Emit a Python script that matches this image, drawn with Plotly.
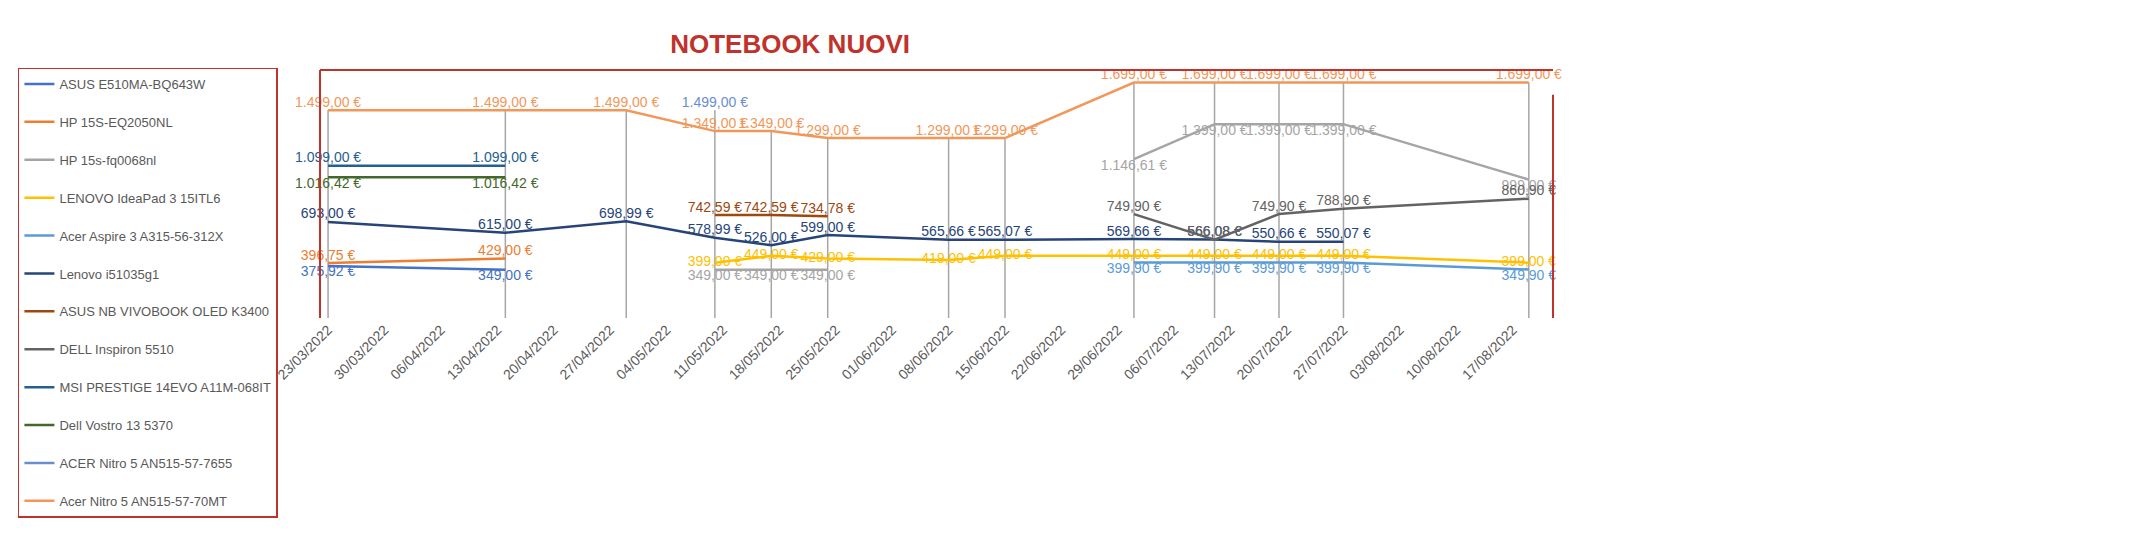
import plotly.graph_objects as go

# survey dates (one column per price check)
dates = ["2022-03-23", "2022-04-14", "2022-04-29", "2022-05-10", "2022-05-17",
         "2022-05-24", "2022-06-08", "2022-06-15", "2022-07-01", "2022-07-11",
         "2022-07-19", "2022-07-27", "2022-08-19"]
N = None

asus_e510 = [375.92, 349.00, N, N, N, N, N, N, N, N, N, N, N]
hp_15s_eq = [396.75, 429.00, N, N, N, N, N, N, N, N, N, N, N]
hp_15s_fq = [N, N, N, 349.00, 349.00, 349.00, N, N, 1146.61, 1399.00, 1399.00, 1399.00, 999.00]
lenovo_ideapad = [N, N, N, 399.00, 449.00, 429.00, 419.00, 449.00, 449.00, 449.00, 449.00, 449.00, 399.00]
acer_aspire = [N, N, N, N, N, N, N, N, 399.90, 399.90, 399.90, 399.90, 349.90]
lenovo_i5 = [693.00, 615.00, 698.99, 578.99, 526.00, 599.00, 565.66, 565.07, 569.66, 566.08, 550.66, 550.07, N]
asus_vivobook = [N, N, N, 742.59, 742.59, 734.78, N, N, N, N, N, N, N]
dell_inspiron = [N, N, N, N, N, N, N, N, 749.90, 566.08, 749.90, 788.90, 860.90]
msi_prestige = [1099.00, 1099.00, N, N, N, N, N, N, N, N, N, N, N]
dell_vostro = [1016.42, 1016.42, N, N, N, N, N, N, N, N, N, N, N]
acer_7655 = [N, N, N, 1499.00, N, N, N, N, N, N, N, N, N]
acer_70mt = [1499.00, 1499.00, 1499.00, 1349.00, 1349.00, 1299.00, 1299.00, 1299.00,
             1699.00, 1699.00, 1699.00, 1699.00, 1699.00]

series = [
    ("ASUS E510MA-BQ643W", asus_e510, "#4472C4", "bottom center"),
    ("HP 15S-EQ2050NL", hp_15s_eq, "#ED7D31", "top center"),
    ("HP 15s-fq0068nl", hp_15s_fq, "#A5A5A5", "bottom center"),
    ("LENOVO IdeaPad 3 15ITL6", lenovo_ideapad, "#FFC000", "middle center"),
    ("Acer Aspire 3 A315-56-312X", acer_aspire, "#5B9BD5", "bottom center"),
    ("Lenovo i51035g1", lenovo_i5, "#264478", "top center"),
    ("ASUS NB VIVOBOOK OLED K3400", asus_vivobook, "#9E480E", "top center"),
    ("DELL Inspiron 5510", dell_inspiron, "#636363", "top center"),
    ("MSI PRESTIGE 14EVO A11M-068IT", msi_prestige, "#255E91", "top center"),
    ("Dell Vostro 13 5370", dell_vostro, "#43682B", "bottom center"),
    ("ACER Nitro 5 AN515-57-7655", acer_7655, "#698ED0", "top center"),
    ("Acer Nitro 5 AN515-57-70MT", acer_70mt, "#F1975A", "top center"),
]


def euro(v):
    if v is None:
        return ""
    s = f"{v:,.2f}".replace(",", "X").replace(".", ",").replace("X", ".")
    return s + " €"


fig = go.Figure()

# grey drop lines from the axis up to the highest price of each date
dx, dy = [], []
for i, d in enumerate(dates):
    vals = [s[1][i] for s in series if s[1][i] is not None]
    dx += [d, d, None]
    dy += [0, max(vals), None]
fig.add_trace(go.Scatter(x=dx, y=dy, mode="lines", line=dict(color="#A6A6A6", width=1.5),
                         showlegend=False, hoverinfo="skip"))

for name, vals, color, pos in series:
    fig.add_trace(go.Scatter(
        x=dates, y=vals, name=name, legendgroup=name, mode="lines+text",
        line=dict(color=color, width=2.5), cliponaxis=False,
        text=[euro(v) for v in vals], textposition=pos,
        textfont=dict(color=color, size=14, family="Liberation Sans Narrow, Liberation Sans"),
    ))

fig.update_layout(
    width=2131, height=536,
    margin=dict(l=312, r=586, t=62, b=226, autoexpand=False),
    plot_bgcolor="white", paper_bgcolor="white",
    title=dict(text="<b>NOTEBOOK NUOVI</b>", x=0.367, xanchor="center", y=0.95,
               font=dict(color="#C0322B", size=26, family="Liberation Sans Narrow, Liberation Sans")),
    font=dict(family="Liberation Sans Narrow, Liberation Sans", color="#595959"),
    legend=dict(x=-0.245, xanchor="left", y=1.01, yanchor="top", maxheight=460,
                bordercolor="#C0322B", borderwidth=1.5, font=dict(size=13),
                tracegroupgap=18, itemwidth=30),
    xaxis=dict(range=["2022-03-22", "2022-08-22"], tick0="2022-03-23", dtick=7 * 86400000,
               tickformat="%d/%m/%Y", tickangle=-45, showgrid=False, tickfont=dict(size=14),
               showline=False, automargin=False),
    yaxis=dict(range=[0, 1790], visible=False),
    shapes=[
        dict(type="line", xref="paper", yref="paper", x0=0, x1=1, y0=1, y1=1,
             line=dict(color="#C0322B", width=2)),
        dict(type="line", xref="paper", yref="paper", x0=0, x1=0, y0=0, y1=1,
             line=dict(color="#C0322B", width=2)),
        dict(type="line", xref="paper", yref="paper", x0=1, x1=1, y0=0, y1=0.9,
             line=dict(color="#C0322B", width=2)),
    ],
)

fig.write_html("out.html")
